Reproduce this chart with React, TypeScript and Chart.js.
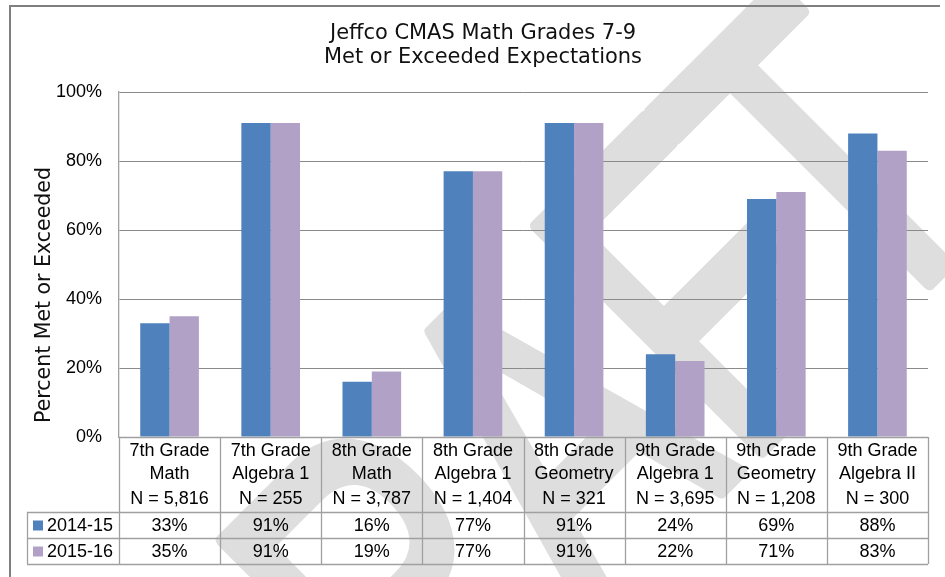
import React, { useEffect, useRef } from "react";
import { Chart, registerables } from "chart.js";

Chart.register(...registerables);

// ---- Data ----
const categoryLine1 = ["7th Grade", "7th Grade", "8th Grade", "8th Grade", "8th Grade", "9th Grade", "9th Grade", "9th Grade"];
const categoryLine2 = ["Math", "Algebra 1", "Math", "Algebra 1", "Geometry", "Algebra 1", "Geometry", "Algebra II"];
const sampleSizes = ["N = 5,816", "N = 255", "N = 3,787", "N = 1,404", "N = 321", "N = 3,695", "N = 1,208", "N = 300"];
const seriesNames = ["2014-15", "2015-16"];
const values2014_15 = [33, 91, 16, 77, 91, 24, 69, 88];
const values2015_16 = [35, 91, 19, 77, 91, 22, 71, 83];
const seriesColors = ["#4F81BD", "#B2A1C7"];
const titleLines = ["Jeffco CMAS Math Grades 7-9", "Met or Exceeded Expectations"];
const yAxisTitle = "Percent Met or Exceeded";
const watermarkHead = "DRAF";
const watermarkTail = "T";

const TABLE_FONT = "18px 'Liberation Sans', Arial, sans-serif";
const TITLE_FONT_FAMILY = "'DejaVu Sans', sans-serif";

function fitFont(ctx: CanvasRenderingContext2D, text: string, target: number, family: string, weight = "") {
  ctx.font = `${weight} 20px ${family}`;
  const w = ctx.measureText(text).width;
  const size = (20 * target) / w;
  return `${weight} ${size.toFixed(2)}px ${family}`;
}

const decorPlugin = {
  id: "decor",
  beforeDraw(chart: any) {
    const ctx: CanvasRenderingContext2D = chart.ctx;
    // watermark (behind everything)
    ctx.save();
    ctx.translate(264, 948);
    ctx.rotate(-Math.PI / 4);
    ctx.scale(1, 1.44);
    ctx.font = "320px 'Liberation Sans', Arial, sans-serif";
    ctx.fillStyle = "#dedede";
    ctx.strokeStyle = "#dedede";
    ctx.lineJoin = "round";
    ctx.lineWidth = 10;
    ctx.textBaseline = "alphabetic";
    ctx.textAlign = "left";
    ctx.fillText(watermarkHead, 0, 0);
    ctx.strokeText(watermarkHead, 0, 0);
    const tx = ctx.measureText(watermarkHead).width - 15;
    ctx.fillText(watermarkTail, tx, 0);
    ctx.strokeText(watermarkTail, tx, 0);
    ctx.restore();
  },
  afterDraw(chart: any) {
    const ctx: CanvasRenderingContext2D = chart.ctx;
    const { chartArea, scales } = chart;
    const xs = scales.x;
    const left = chartArea.left;
    const right = chartArea.right;
    const bottom = chartArea.bottom;
    const n = categoryLine1.length;
    const step = (right - left) / n;

    ctx.save();
    // outer frame (left and top)
    ctx.strokeStyle = "#7f7f7f";
    ctx.lineWidth = 2;
    ctx.beginPath();
    ctx.moveTo(10, 600);
    ctx.lineTo(10, 6);
    ctx.lineTo(940, 6);
    ctx.stroke();

    // title
    ctx.fillStyle = "#111";
    ctx.textAlign = "center";
    ctx.textBaseline = "middle";
    ctx.font = fitFont(ctx, titleLines[1], 318, TITLE_FONT_FAMILY);
    ctx.fillText(titleLines[0], 483, 34);
    ctx.fillText(titleLines[1], 483, 58);

    // y axis title
    ctx.save();
    ctx.translate(45, 295);
    ctx.rotate(-Math.PI / 2);
    ctx.font = fitFont(ctx, yAxisTitle, 256, TITLE_FONT_FAMILY);
    ctx.fillText(yAxisTitle, 0, 0);
    ctx.restore();

    // data table
    const headerBottom = bottom + 75;
    const row1Bottom = headerBottom + 26;
    const row2Bottom = row1Bottom + 26;
    const tableLeft = 27;

    ctx.strokeStyle = "#a0a0a0";
    ctx.lineWidth = 1.3;
    ctx.beginPath();
    ctx.moveTo(left, bottom + 0.5);
    ctx.lineTo(right, bottom + 0.5);
    [headerBottom, row1Bottom, row2Bottom].forEach((y) => {
      ctx.moveTo(tableLeft, y + 0.5);
      ctx.lineTo(right, y + 0.5);
    });
    ctx.moveTo(tableLeft + 0.5, headerBottom);
    ctx.lineTo(tableLeft + 0.5, row2Bottom);
    for (let i = 0; i <= n; i++) {
      const x = Math.round(left + i * step) + 0.5;
      ctx.moveTo(x, bottom);
      ctx.lineTo(x, row2Bottom);
    }
    ctx.stroke();

    ctx.fillStyle = "#000";
    ctx.font = TABLE_FONT;
    ctx.textAlign = "center";
    ctx.textBaseline = "middle";
    for (let i = 0; i < n; i++) {
      const cx = xs.getPixelForValue(i);
      ctx.fillText(categoryLine1[i], cx, bottom + 14);
      ctx.fillText(categoryLine2[i], cx, bottom + 37);
      ctx.fillText(sampleSizes[i], cx, bottom + 62);
      ctx.fillText(`${values2014_15[i]}%`, cx, headerBottom + 14);
      ctx.fillText(`${values2015_16[i]}%`, cx, row1Bottom + 14);
    }
    // legend keys
    const rowTops = [headerBottom, row1Bottom];
    seriesNames.forEach((name, k) => {
      const cy = rowTops[k] + 13.5;
      ctx.fillStyle = seriesColors[k];
      ctx.fillRect(33, cy - 5, 10, 10);
      ctx.fillStyle = "#000";
      ctx.textAlign = "left";
      ctx.fillText(name, 47, cy + 1);
    });
    ctx.restore();
  },
};

export default function App() {
  const canvasRef = useRef<HTMLCanvasElement | null>(null);

  useEffect(() => {
    if (!canvasRef.current) return;
    const chart = new Chart(canvasRef.current, {
      type: "bar",
      data: {
        labels: categoryLine1.map((c, i) => `${c} ${categoryLine2[i]}`),
        datasets: [
          {
            label: seriesNames[0],
            data: values2014_15,
            backgroundColor: seriesColors[0],
            borderWidth: 0,
            barPercentage: 1,
            categoryPercentage: 0.58,
          },
          {
            label: seriesNames[1],
            data: values2015_16,
            backgroundColor: seriesColors[1],
            borderWidth: 0,
            barPercentage: 1,
            categoryPercentage: 0.58,
          },
        ],
      },
      options: {
        responsive: false,
        animation: false,
        events: [],
        layout: { padding: { left: 0, top: 92, right: 17, bottom: 140 } },
        plugins: {
          legend: { display: false },
          title: { display: false },
          tooltip: { enabled: false },
        },
        scales: {
          x: { display: false },
          y: {
            min: 0,
            max: 100,
            afterFit: (scale: any) => {
              scale.width = 119;
            },
            ticks: {
              stepSize: 20,
              padding: 17,
              color: "#000",
              font: { family: "'Liberation Sans', Arial, sans-serif", size: 18 },
              callback: (v: any) => `${v}%`,
            },
            grid: { color: "#8a8a8a", lineWidth: 1, drawTicks: false },
            border: { display: true, color: "#a0a0a0", width: 1.3 },
          },
        },
      },
      plugins: [decorPlugin],
    });
    return () => chart.destroy();
  }, []);

  return (
    <div style={{ position: "absolute", left: 0, top: 0, width: 945, height: 577, background: "#fff" }}>
      <canvas ref={canvasRef} width={945} height={577} />
    </div>
  );
}
